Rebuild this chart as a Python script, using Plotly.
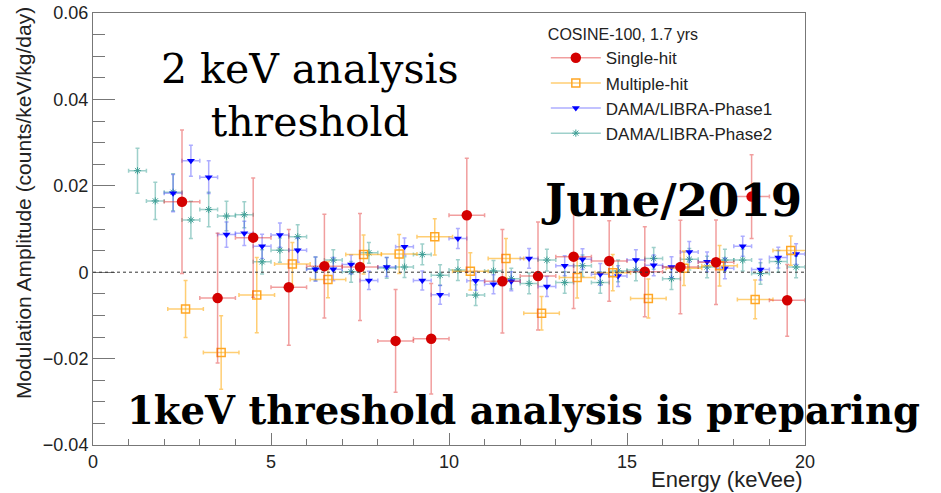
import plotly.graph_objects as go

# ---------------- data ----------------
single_x = [2.5, 3.5, 4.5, 5.5, 6.5, 7.5, 8.5, 9.5, 10.5, 11.5, 12.5, 13.5, 14.5, 15.5, 16.5, 17.5, 18.5, 19.5]
single_y = [0.0163, -0.0060, 0.0080, -0.0035, 0.0014, 0.0012, -0.0159, -0.0154, 0.0132, -0.0021,
            -0.0009, 0.0036, 0.0026, 0.0001, 0.0012, 0.0023, 0.0175, -0.0065]
single_err = [0.0166, 0.0150, 0.0138, 0.0134, 0.0120, 0.0124, 0.0119, 0.0128, 0.0132, 0.0120,
              0.0125, 0.0120, 0.0093, 0.0104, 0.0108, 0.0098, 0.0097, 0.0083]

multi_x = [2.6, 3.6, 4.6, 5.6, 6.6, 7.6, 8.6, 9.6, 10.6, 11.6, 12.6, 13.6, 14.6, 15.6, 16.6, 17.6, 18.6, 19.6]
multi_y = [-0.0085, -0.0186, -0.0053, 0.0019, -0.0017, 0.0041, 0.0042, 0.0082, 0.0002, 0.0032,
           -0.0095, -0.0012, -0.0001, -0.0061, 0.0009, 0.0015, -0.0063, 0.0050]
multi_err = [0.0066, 0.0085, 0.0087, 0.0050, 0.0042, 0.0045, 0.0045, 0.0042, 0.0043, 0.0046,
             0.0039, 0.0048, 0.0042, 0.0045, 0.0040, 0.0047, 0.0045, 0.0034]

p1_x = [2.25, 2.75, 3.25, 3.75, 4.25, 4.75, 5.25, 5.75, 6.25, 6.75, 7.25, 7.75, 8.25, 8.75,
        9.25, 9.75, 10.25, 10.75, 11.25, 11.75, 12.25, 12.75, 13.25, 13.75, 14.25, 14.75,
        15.25, 15.75, 16.25, 16.75, 17.25, 17.75, 18.25, 18.75, 19.25, 19.75]
p1_y = [0.0183, 0.0258, 0.0220, 0.0087, 0.0090, 0.0060, 0.0086, 0.0051, 0.0007, 0.0007,
        0.0018, -0.0019, 0.0012, 0.0059, -0.0019, -0.0052, 0.0078, -0.0020, -0.0028, -0.0021,
        0.0032, -0.0033, 0.0015, 0.0030, -0.0005, -0.0009, 0.0028, 0.0016, 0.0012, 0.0047,
        0.0024, 0.0009, 0.0060, 0.0006, 0.0034, 0.0042]
p1_err = [0.0043, 0.0036, 0.0038, 0.0029, 0.0028, 0.0028, 0.0028, 0.0028, 0.0028, 0.0027,
          0.0022, 0.0021, 0.0022, 0.0020, 0.0022, 0.0022, 0.0023, 0.0022, 0.0022, 0.0022,
          0.0023, 0.0023, 0.0023, 0.0024, 0.0025, 0.0024, 0.0024, 0.0024, 0.0024, 0.0024,
          0.0023, 0.0024, 0.0023, 0.0024, 0.0024, 0.0024]

p2_x = [1.25, 1.75, 2.25, 2.75, 3.25, 3.75, 4.25, 4.75, 5.25, 5.75, 6.25, 6.75, 7.25, 7.75,
        8.25, 8.75, 9.25, 9.75, 10.25, 10.75, 11.25, 11.75, 12.25, 12.75, 13.25, 13.75,
        14.25, 14.75, 15.25, 15.75, 16.25, 16.75, 17.25, 17.75, 18.25, 18.75, 19.25, 19.75]
p2_y = [0.0235, 0.0165, 0.0185, 0.0121, 0.0145, 0.0130, 0.0133, 0.0024, 0.0051, 0.0082,
        0.0008, 0.0028, 0.0001, 0.0045, 0.0010, 0.0012, 0.0041, -0.0007, 0.0005, -0.0053,
        0.0003, -0.0015, -0.0026, 0.0028, -0.0024, 0.0015, -0.0024, 0.0003, 0.0005, 0.0032,
        -0.0015, 0.0030, 0.0012, 0.0028, 0.0028, -0.0003, 0.0025, 0.0012]
p2_err = [0.0052, 0.0043, 0.0043, 0.0043, 0.0040, 0.0034, 0.0030, 0.0028, 0.0028, 0.0028,
          0.0027, 0.0024, 0.0024, 0.0024, 0.0024, 0.0024, 0.0024, 0.0024, 0.0024, 0.0024,
          0.0024, 0.0024, 0.0024, 0.0025, 0.0025, 0.0025, 0.0025, 0.0025, 0.0025, 0.0025,
          0.0025, 0.0025, 0.0025, 0.0025, 0.0025, 0.0025, 0.0025, 0.0025]

single_halfwidth = 0.5
multi_halfwidth = 0.5
p1_halfwidth = 0.25
p2_halfwidth = 0.25

# ---------------- styles ----------------
RED_M, RED_E = "#d40000", "rgba(225,40,40,0.45)"
ORA_M, ORA_E = "#ffa726", "rgba(255,165,0,0.55)"
BLU_M, BLU_E = "#0000ff", "rgba(40,40,255,0.38)"
TEA_M, TEA_E = "#3f9f96", "rgba(40,150,140,0.45)"

fig = go.Figure()


def add_series(x, y, ey, hw, marker, ecolor):
    fig.add_trace(go.Scatter(
        x=x, y=y, mode="markers", marker=marker, showlegend=False, hoverinfo="skip",
        error_y=dict(type="data", array=ey, color=ecolor, thickness=1.5, width=2),
        error_x=dict(type="constant", value=hw, color=ecolor, thickness=1.5, width=2),
    ))


m_tea = dict(symbol="asterisk-open", size=6, color=TEA_M, line=dict(color=TEA_M, width=1))
m_blu = dict(symbol="triangle-down", size=7, color=BLU_M, line=dict(width=0))
m_ora = dict(symbol="square-open", size=8, color=ORA_M, line=dict(color=ORA_M, width=1.5))
m_red = dict(symbol="circle", size=10.5, color=RED_M, line=dict(width=0))

add_series(p2_x, p2_y, p2_err, p2_halfwidth, m_tea, TEA_E)
add_series(p1_x, p1_y, p1_err, p1_halfwidth, m_blu, BLU_E)
add_series(multi_x, multi_y, multi_err, multi_halfwidth, m_ora, ORA_E)
add_series(single_x, single_y, single_err, single_halfwidth, m_red, RED_E)

legend_names = ["Single-hit", "Multiple-hit", "DAMA/LIBRA-Phase1", "DAMA/LIBRA-Phase2"]
for name, mk, ec in zip(legend_names, [m_red, m_ora, m_blu, m_tea], [RED_E, ORA_E, BLU_E, TEA_E]):
    fig.add_trace(go.Scatter(x=[None], y=[None], mode="lines+markers", name=name,
                             marker=mk, line=dict(color=ec, width=1.5), legendgroup=name))

fig.add_hline(y=0, line=dict(color="#333", width=1, dash="dot"))

axis_common = dict(showline=True, linecolor="#777", linewidth=1, mirror=True, automargin=False,
                   ticks="inside", tickcolor="#777", showgrid=False, zeroline=False,
                   tickfont=dict(family="Liberation Sans, Arial", size=18, color="#222"))

fig.update_xaxes(range=[0, 20], dtick=5, tick0=0, ticklen=12,
                 minor=dict(dtick=1, ticklen=6, ticks="inside", tickcolor="#777"),
                 **axis_common)
fig.update_yaxes(range=[-0.04, 0.06], dtick=0.02, tick0=0, ticklen=22,
                 minor=dict(dtick=0.005, ticklen=12, ticks="inside", tickcolor="#777"),
                 **axis_common)

fig.add_annotation(text="Modulation Amplitude (counts/keV/kg/day)", textangle=-90,
                   xref="paper", yref="paper", x=0, y=1, xanchor="center", yanchor="top",
                   xshift=-70, yshift=8, showarrow=False,
                   font=dict(family="Liberation Sans, Arial", size=21, color="#222"))
fig.add_annotation(text="Energy (keVee)", xref="paper", yref="paper", x=1, y=0,
                   xanchor="right", yanchor="top", yshift=-20, showarrow=False,
                   font=dict(family="Liberation Sans, Arial", size=22, color="#222"))

fig.add_annotation(text="2 keV analysis<br>threshold", xref="paper", yref="paper",
                   x=0.305, y=0.808, xanchor="center", yanchor="middle", showarrow=False,
                   font=dict(family="DejaVu Serif", size=41, color="black"))
fig.add_annotation(text="<b>June/2019</b>", xref="paper", yref="paper",
                   x=0.813, y=0.567, xanchor="center", yanchor="middle", showarrow=False,
                   font=dict(family="DejaVu Serif", size=45, color="black"))
fig.add_annotation(text="<b>1keV threshold analysis is preparing</b>", xref="paper", yref="paper",
                   x=0.605, y=0.081, xanchor="center", yanchor="middle", showarrow=False,
                   font=dict(family="DejaVu Serif", size=38.6, color="black"))

fig.update_layout(
    width=941, height=493, margin=dict(l=93, r=136, t=13, b=48),
    paper_bgcolor="white", plot_bgcolor="white",
    font=dict(family="Liberation Sans, Arial", color="#222"),
    legend=dict(x=0.636, y=0.985, xanchor="left", yanchor="top", bgcolor="rgba(0,0,0,0)",
                title=dict(text="COSINE-100, 1.7 yrs", font=dict(size=16)),
                font=dict(size=17), itemwidth=50, tracegroupgap=3, traceorder="normal"),
)

fig.write_html("out.html")
